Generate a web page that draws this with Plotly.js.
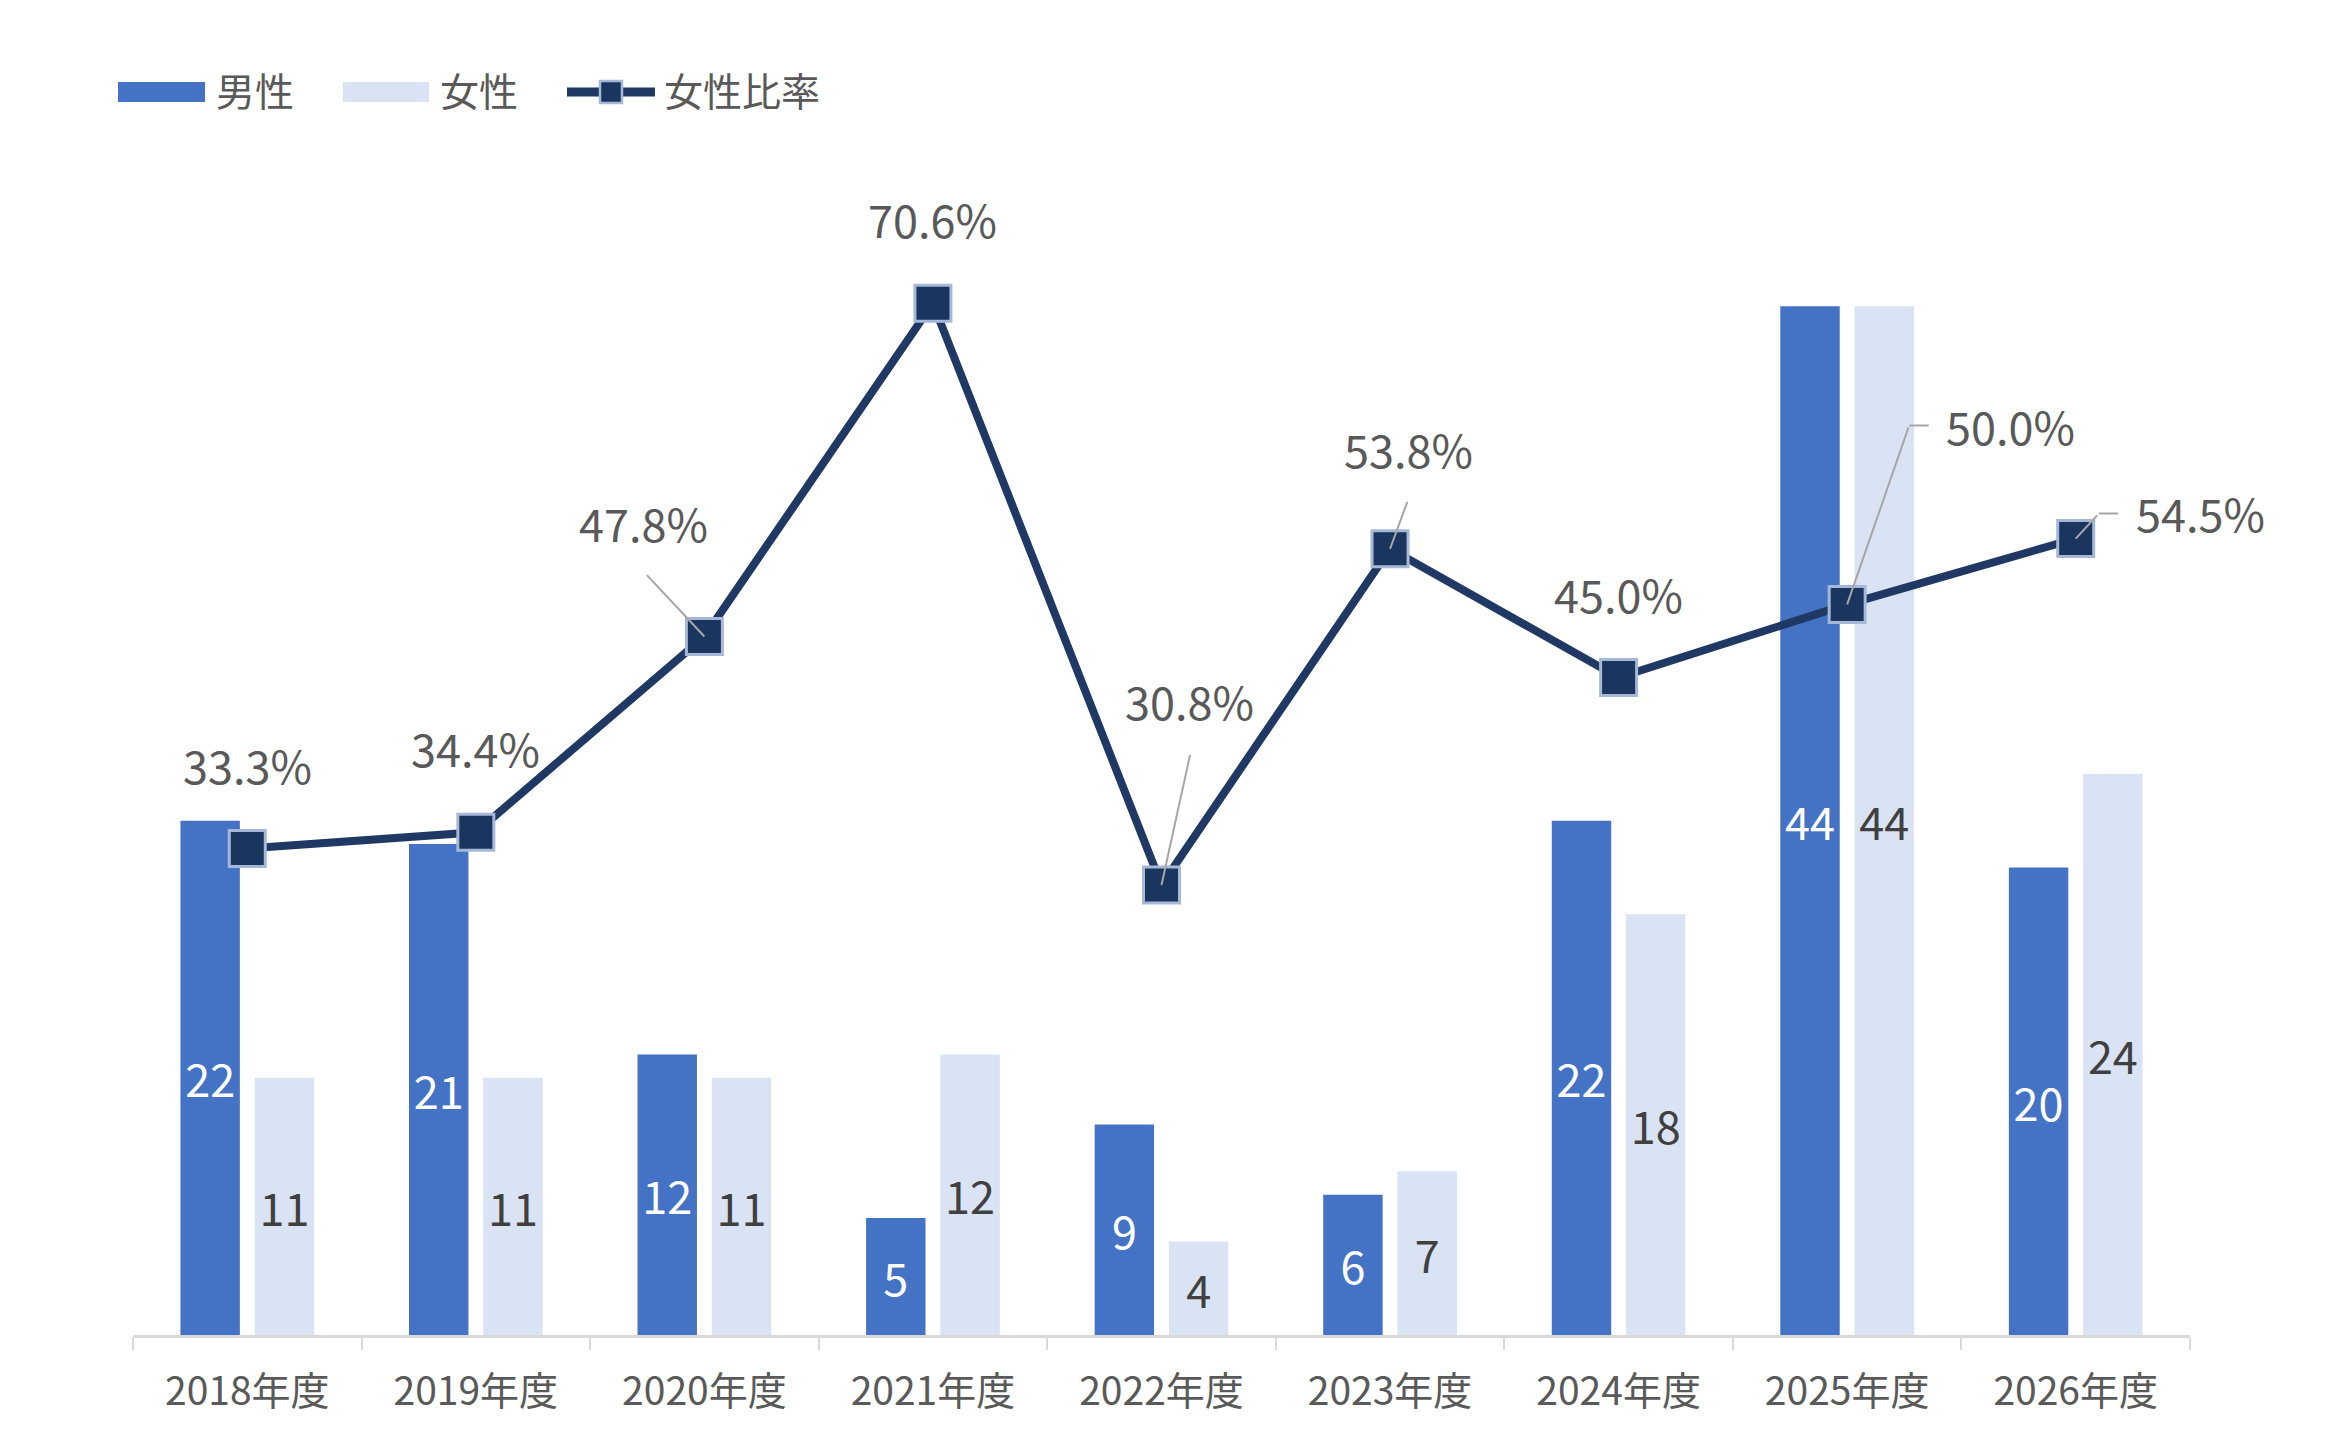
<!DOCTYPE html>
<html>
<head>
<meta charset="utf-8">
<script src="https://cdn.plot.ly/plotly-3.0.1.min.js"></script>
<style>
    body { margin: 0; background: #ffffff; }
    #chart { width: 2341px; height: 1444px; outline: 3px solid #d9d9d9; outline-offset: -3px; }
</style>
</head>
<body>
<div id="chart"></div>
<script>
"use strict";

var categories = ["2018年度", "2019年度", "2020年度", "2021年度", "2022年度", "2023年度", "2024年度", "2025年度", "2026年度"];
var maleCounts = [22, 21, 12, 5, 9, 6, 22, 44, 20];
var femaleCounts = [11, 11, 11, 12, 4, 7, 18, 44, 24];
var femaleRatio = [33.3, 34.4, 47.8, 70.6, 30.8, 53.8, 45.0, 50.0, 54.5];
var seriesNames = ["男性", "女性", "女性比率"];

var FONT = "'Noto Sans CJK JP', 'Noto Sans', sans-serif";
var GREY_TEXT = "#595959";
var MALE_COLOR = "#4472c4";
var FEMALE_COLOR = "#dae3f3";
var LINE_COLOR = "#203864";
var MARKER_FILL = "#1a365e";
var MARKER_EDGE = "#a6b8d8";

// plot area in page pixels (margins below are derived from it)
var PLOT = {left: 133, right: 2190, top: 166, bottom: 1335};

// pixel offsets of each ratio label (and its leader line) from its point
var labelPlacement = [
    {label: [0, -84]},
    {label: [0, -85]},
    {label: [-61, -114], leader: [-59, -63]},
    {label: [0, -85]},
    {label: [28, -184], leader: [29, -132]},
    {label: [18, -100], leader: [18, -49]},
    {label: [0, -84]},
    {label: [163, -179], leader: [62, -179], elbow: 21},
    {label: [125, -26], leader: [23, -25], elbow: 21}
];

function paperX(px) { return (px - PLOT.left) / (PLOT.right - PLOT.left); }
function paperY(py) { return (PLOT.bottom - py) / (PLOT.bottom - PLOT.top); }

/**
 * Builds the ratio labels plus the grey leader lines Excel draws for moved labels
 */
function buildRatioAnnotations() {
    var annotations = [];
    femaleRatio.forEach(function(value, i) {
        var place = labelPlacement[i];
        annotations.push({
            x: categories[i], y: value, xref: "x", yref: "y2",
            text: value.toFixed(1) + "%",
            showarrow: false,
            xshift: place.label[0],
            yshift: -place.label[1],
            font: {family: FONT, size: 45, color: GREY_TEXT}
        });
        if (place.leader) {
            annotations.push({
                x: categories[i], y: value, xref: "x", yref: "y2",
                text: " ",
                font: {size: 1},
                showarrow: true, arrowhead: 0, standoff: 0, startstandoff: 0,
                arrowcolor: "#a6a6a6", arrowwidth: 2,
                ax: place.leader[0], ay: place.leader[1]
            });
        }
        if (place.elbow) {
            annotations.push({
                x: categories[i], y: value, xref: "x", yref: "y2",
                text: " ",
                font: {size: 1},
                xshift: place.leader[0],
                yshift: -place.leader[1],
                showarrow: true, arrowhead: 0, standoff: 0, startstandoff: 0,
                arrowcolor: "#a6a6a6", arrowwidth: 2,
                ax: place.elbow, ay: 0
            });
        }
    });
    return annotations;
}

/**
 * Excel-style legend (wide swatches) drawn with shapes and annotations above the plot
 */
function buildLegend() {
    var yMid = 92;
    var textMid = 89;
    var items = [
        {kind: "bar", color: MALE_COLOR, x0: 118, x1: 205, textX: 214},
        {kind: "bar", color: FEMALE_COLOR, x0: 343, x1: 429, textX: 438},
        {kind: "line", color: LINE_COLOR, x0: 563, x1: 659, textX: 662}
    ];
    var shapes = [];
    var annotations = [];
    items.forEach(function(item, i) {
        if (item.kind === "bar") {
            shapes.push({
                type: "rect", xref: "paper", yref: "paper",
                x0: paperX(item.x0), x1: paperX(item.x1), y0: paperY(yMid + 10), y1: paperY(yMid - 10),
                fillcolor: item.color, line: {width: 0}
            });
        } else {
            var mid = (item.x0 + item.x1) / 2;
            shapes.push({
                type: "line", xref: "paper", yref: "paper",
                x0: paperX(item.x0 + 4), x1: paperX(item.x1 - 4), y0: paperY(yMid), y1: paperY(yMid),
                line: {color: item.color, width: 9}
            });
            shapes.push({
                type: "rect", xref: "paper", yref: "paper",
                x0: paperX(mid - 11), x1: paperX(mid + 11), y0: paperY(yMid + 11), y1: paperY(yMid - 11),
                fillcolor: MARKER_FILL, line: {color: MARKER_EDGE, width: 2.5}
            });
        }
        annotations.push({
            xref: "paper", yref: "paper",
            x: paperX(item.textX), y: paperY(textMid),
            xanchor: "left", yanchor: "middle",
            text: seriesNames[i], showarrow: false,
            font: {family: FONT, size: 39, color: GREY_TEXT}
        });
    });
    return {shapes: shapes, annotations: annotations};
}

function drawChart() {
    var maleTrace = {
        type: "bar", name: seriesNames[0],
        x: categories, y: maleCounts,
        marker: {color: MALE_COLOR},
        text: maleCounts.map(String),
        textposition: "inside", insidetextanchor: "middle", constraintext: "none",
        textfont: {family: FONT, size: 45, color: "#ffffff"},
        hoverinfo: "none"
    };
    var femaleTrace = {
        type: "bar", name: seriesNames[1],
        x: categories, y: femaleCounts,
        marker: {color: FEMALE_COLOR},
        text: femaleCounts.map(String),
        textposition: "inside", insidetextanchor: "middle", constraintext: "none",
        textfont: {family: FONT, size: 45, color: "#404040"},
        hoverinfo: "none"
    };
    var ratioTrace = {
        type: "scatter", mode: "lines+markers", name: seriesNames[2],
        x: categories, y: femaleRatio, yaxis: "y2",
        line: {color: LINE_COLOR, width: 8},
        marker: {symbol: "square", size: 36, color: MARKER_FILL, line: {color: MARKER_EDGE, width: 3}},
        hoverinfo: "none"
    };

    var legend = buildLegend();

    var layout = {
        width: 2341, height: 1444,
        margin: {l: PLOT.left, r: 2341 - PLOT.right, t: PLOT.top, b: 1444 - PLOT.bottom},
        paper_bgcolor: "#ffffff", plot_bgcolor: "rgba(0,0,0,0)",
        font: {family: FONT, color: GREY_TEXT},
        barmode: "group", bargap: 0.35, bargroupgap: 0.2,
        showlegend: false,
        xaxis: {
            type: "category",
            range: [-0.5, categories.length - 0.5],
            tickson: "boundaries", ticks: "outside", ticklen: 12, tickwidth: 2, tickcolor: "#d9d9d9",
            ticklabelstandoff: 20,
            showline: true, linecolor: "#d9d9d9", linewidth: 3,
            showgrid: false, zeroline: false,
            tickfont: {family: FONT, size: 39, color: GREY_TEXT}
        },
        yaxis: {range: [0, 50], visible: false, showgrid: false, zeroline: false},
        yaxis2: {range: [0, 80], overlaying: "y", side: "right", visible: false, showgrid: false, zeroline: false},
        shapes: legend.shapes,
        annotations: buildRatioAnnotations().concat(legend.annotations)
    };

    Plotly.newPlot("chart", [maleTrace, femaleTrace, ratioTrace], layout, {displayModeBar: false, staticPlot: true});
}

drawChart();
</script>
</body>
</html>
